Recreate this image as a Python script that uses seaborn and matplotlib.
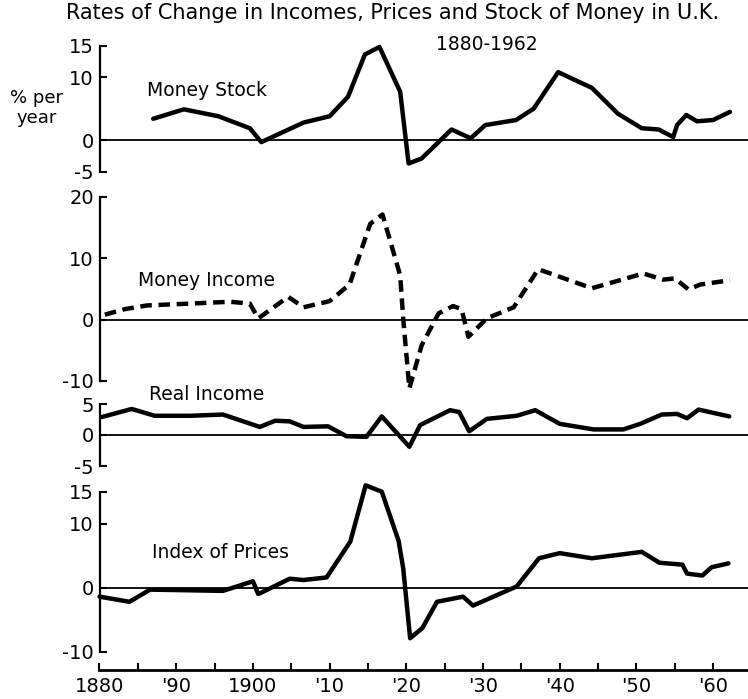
import matplotlib
matplotlib.use('Agg')
import matplotlib.pyplot as plt
import seaborn as sns

# 数据：年份与变化率（% per year）
years_ms = [1887.0, 1891.0, 1895.5, 1899.6, 1901.1, 1906.6, 1910.0, 1912.4, 1914.6, 1916.5,
            1919.2, 1920.3, 1922.0, 1925.9, 1928.4, 1930.3, 1934.3, 1936.6, 1939.8, 1944.2,
            1947.6, 1950.7, 1952.9, 1954.8, 1955.3, 1956.5, 1957.9, 1960.0, 1962.2]
money_stock = [3.4, 4.9, 3.8, 1.9, -0.3, 2.8, 3.8, 6.9, 13.6, 14.8,
               7.7, -3.7, -2.9, 1.7, 0.3, 2.4, 3.2, 5.0, 10.8, 8.3,
               4.2, 1.9, 1.7, 0.5, 2.4, 4.0, 3.0, 3.2, 4.5]

years_mi = [1880.7, 1883.3, 1886.2, 1891.8, 1897.0, 1899.6, 1900.7, 1904.6, 1906.6, 1910.0,
            1912.6, 1915.3, 1916.9, 1919.2, 1919.6, 1920.4, 1922.0, 1924.2, 1926.1, 1927.2,
            1928.1, 1930.5, 1934.0, 1937.2, 1944.2, 1950.9, 1953.5, 1955.0, 1956.8, 1958.3, 1962.2]
money_income = [0.8, 1.7, 2.3, 2.6, 2.9, 2.6, 0.2, 3.7, 2.0, 3.0,
                5.7, 15.6, 17.1, 7.2, 0.1, -11.2, -4.2, 1.0, 2.2, 1.7,
                -2.8, 0.2, 2.0, 8.2, 5.1, 7.5, 6.5, 6.7, 4.9, 5.7, 6.4]

years_ri = [1880.3, 1884.2, 1887.2, 1891.8, 1896.1, 1900.9, 1902.9, 1904.8, 1906.6, 1909.8,
            1912.2, 1914.8, 1916.8, 1920.4, 1921.8, 1925.7, 1926.9, 1928.2, 1930.5, 1934.4,
            1936.8, 1940.0, 1944.4, 1948.3, 1950.5, 1953.3, 1955.3, 1956.6, 1958.1, 1962.1]
real_income = [2.9, 4.2, 3.1, 3.1, 3.3, 1.3, 2.3, 2.2, 1.3, 1.4,
               -0.2, -0.3, 3.0, -1.9, 1.6, 4.0, 3.7, 0.6, 2.6, 3.1,
               4.0, 1.8, 0.9, 0.9, 1.8, 3.3, 3.4, 2.7, 4.1, 3.0]

years_p = [1880.0, 1883.9, 1886.6, 1896.1, 1900.0, 1900.7, 1904.8, 1906.6, 1909.6, 1912.7,
           1914.7, 1916.8, 1919.0, 1919.6, 1920.5, 1922.1, 1924.0, 1927.4, 1928.7, 1934.4,
           1937.3, 1940.0, 1944.2, 1950.7, 1953.0, 1956.0, 1956.6, 1958.6, 1959.8, 1962.0]
prices = [-1.4, -2.2, -0.3, -0.5, 1.0, -1.0, 1.4, 1.2, 1.6, 7.2,
          16.0, 15.0, 7.3, 3.0, -7.9, -6.3, -2.2, -1.4, -2.8, 0.2,
          4.6, 5.4, 4.6, 5.6, 3.9, 3.6, 2.2, 1.9, 3.2, 3.8]

x_ticks = [1880, 1890, 1900, 1910, 1920, 1930, 1940, 1950, 1960]
x_labels = ['1880', "'90", '1900', "'10", "'20", "'30", "'40", "'50", "'60"]

sns.set_style('ticks')
plt.rcParams['font.family'] = ['DejaVu Sans']
plt.rcParams['text.color'] = 'black'
plt.rcParams['axes.edgecolor'] = 'black'
plt.rcParams['xtick.color'] = 'black'
plt.rcParams['ytick.color'] = 'black'

W, H = 748, 699
fig = plt.figure(figsize=(W / 100, H / 100), dpi=100)


def box(top, bottom):
    # 像素坐标 -> figure 坐标
    return [99.5 / W, 1 - bottom / H, 648.5 / W, (bottom - top) / H]


panels = [
    dict(rect=box(45.7, 171.7), ylim=(-5, 15), yticks=[-5, 0, 10, 15],
         x=years_ms, y=money_stock, ls='-', label='Money Stock', lx=207, ly=91),
    dict(rect=box(196.7, 381.0), ylim=(-10, 20), yticks=[-10, 0, 10, 20],
         x=years_mi, y=money_income, ls=(0, (2.6, 1.5)), label='Money Income', lx=206, ly=280),
    dict(rect=box(404.0, 466.0), ylim=(-5, 5), yticks=[-5, 0, 5],
         x=years_ri, y=real_income, ls='-', label='Real Income', lx=207, ly=394),
    dict(rect=box(491.7, 651.7), ylim=(-10, 15), yticks=[-10, 0, 10, 15],
         x=years_p, y=prices, ls='-', label='Index of Prices', lx=220, ly=552),
]

for i, p in enumerate(panels):
    ax = fig.add_axes(p['rect'])
    ax.set_facecolor('none')
    sns.lineplot(x=p['x'], y=p['y'], ax=ax, color='black', linewidth=3.2,
                 linestyle=p['ls'], clip_on=False)
    ax.axhline(0, color='black', linewidth=1.3, zorder=1)
    ax.set_xlim(1880, 1964.55)
    ax.set_ylim(*p['ylim'])
    ax.set_yticks(p['yticks'])
    ax.set_yticklabels([str(t) for t in p['yticks']])
    ax.tick_params(axis='y', direction='in', length=5, width=1.5, pad=4, labelsize=14)
    ax.spines['left'].set_linewidth(1.6)
    for s in ['top', 'right']:
        ax.spines[s].set_visible(False)
    if i < 3:
        ax.spines['bottom'].set_visible(False)
        ax.set_xticks([])
    else:
        ax.spines['bottom'].set_position(('outward', 13.2))
        ax.spines['bottom'].set_linewidth(2)
        ax.set_xticks(x_ticks)
        ax.set_xticklabels(x_labels)
        ax.set_xticks(list(range(1885, 1965, 10)), minor=True)
        ax.tick_params(axis='x', which='both', direction='in', length=5, width=1.5,
                       pad=5, labelsize=14)
    ax.set_xlabel('')
    ax.set_ylabel('')
    fig.text(p['lx'] / W, 1 - p['ly'] / H, p['label'], fontsize=13.5,
             ha='center', va='center')

fig.text(393 / W, 1 - 13 / H, 'Rates of Change in Incomes, Prices and Stock of Money in U.K.',
         fontsize=15, ha='center', va='center')
fig.text(487 / W, 1 - 44 / H, '1880-1962', fontsize=13.5, ha='center', va='center')
fig.text(37 / W, 1 - 108 / H, '% per\nyear', fontsize=13, ha='center', va='center',
         linespacing=1.1)

fig.savefig('out.png', dpi=100)
